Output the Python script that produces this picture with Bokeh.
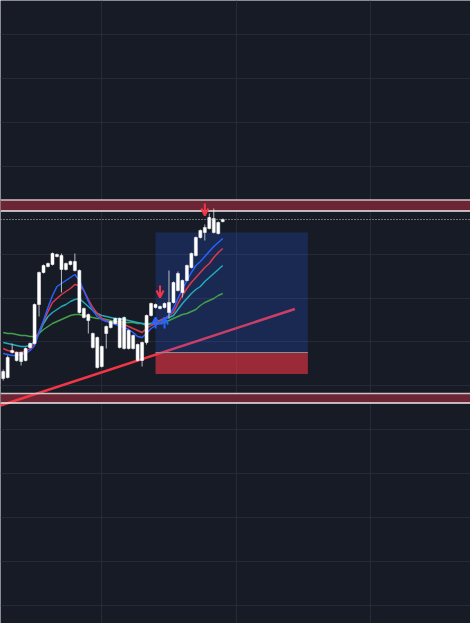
from bokeh.plotting import figure
from bokeh.models import (ColumnDataSource, Range1d, FixedTicker, BoxAnnotation, Span,
                          Arrow, OpenHead)
from bokeh.embed import file_html
from bokeh.resources import INLINE

# ---------------- data ----------------
opens  = [101.4,100.8,103.3,103.3,102.4,102.5,103.8,104.2,108.1,111.3,
          111.9,112.1,113.1,113.0,111.6,112.1,112.4,111.5,107.7,107.1,
          105.2,104.8,101.9,105.2,105.8,106.2,106.7,103.7,105.5,103.7,
          104.1,102.5,104.3,107.0,108.1,107.7,107.8,108.3,108.3,109.5,
          110.5,110.5,111.8,113.0,114.8,115.3,115.7,116.7,115.2,116.4]
highs  = [101.6,103.0,104.2,103.4,103.4,103.8,104.3,108.2,111.4,112.1,
          112.3,113.3,113.2,113.2,112.3,112.5,113.2,111.6,107.8,107.2,
          105.3,104.9,104.0,106.0,106.5,106.8,106.8,106.9,105.6,105.1,
          104.2,104.4,107.1,108.3,108.2,108.0,108.3,111.5,110.4,111.4,
          110.6,112.1,113.3,114.9,115.6,116.1,117.2,117.7,116.4,116.7]
lows   = [100.5,100.7,103.2,102.4,102.0,102.4,103.7,104.1,106.9,111.2,
          111.8,112.0,112.8,109.3,111.5,112.0,111.4,107.2,106.7,105.2,
          103.7,101.7,101.8,103.7,105.7,106.1,103.7,103.6,103.6,103.6,
          102.4,101.9,104.1,106.9,107.7,107.6,107.7,106.7,108.2,109.4,
          108.8,110.4,111.7,112.9,114.7,114.5,115.6,115.2,115.1,116.3]
closes = [100.7,102.8,103.5,102.5,103.3,103.7,104.2,108.1,111.3,112.0,
          112.2,113.2,112.9,111.6,112.2,112.4,111.5,107.3,106.8,106.5,
          103.8,101.8,103.9,105.9,106.4,106.7,103.8,106.8,103.7,105.0,
          102.5,104.3,107.0,108.2,107.8,107.9,108.2,107.3,110.3,111.2,
          109.3,112.0,113.2,114.8,115.5,115.8,116.8,115.3,116.3,116.6]

ma_blue  = [103.2,103.1,103.0,103.0,103.1,103.2,103.5,104.0,105.3,106.5,
            107.8,109.0,109.9,110.2,110.5,110.8,111.1,110.5,109.5,108.4,
            107.5,106.9,106.6,106.4,106.3,106.1,106.0,105.8,105.6,105.3,
            104.9,104.8,105.2,105.7,106.0,106.3,106.6,107.0,107.7,108.7,
            109.6,110.5,111.3,112.0,112.4,112.9,113.4,113.9,114.3,114.7]
ma_red   = [103.7,103.5,103.4,103.3,103.3,103.4,103.7,104.3,105.4,106.4,
            107.4,108.3,108.7,109.1,109.4,109.7,110.1,110.0,109.5,108.6,
            107.8,107.2,106.7,106.5,106.3,106.2,106.2,106.1,105.9,105.7,
            105.5,105.3,105.7,106.0,106.2,106.5,106.7,107.0,107.3,108.2,
            109.0,109.7,110.3,110.8,111.3,111.8,112.2,112.8,113.3,113.7]
ma_cyan  = [104.3,104.2,104.1,104.0,103.9,103.9,104.0,104.4,105.2,106.2,
            106.9,107.3,107.6,107.9,108.1,108.4,108.6,108.7,108.3,107.9,
            107.5,107.2,107.0,106.9,106.8,106.7,106.7,106.6,106.5,106.4,
            106.3,106.2,106.0,106.2,106.3,106.5,106.7,106.8,107.0,107.6,
            108.2,108.7,109.2,109.6,109.9,110.4,110.8,111.2,111.6,112.0]
ma_green = [105.3,105.2,105.2,105.1,105.0,105.0,104.9,104.9,105.2,105.6,
            105.9,106.2,106.4,106.6,106.8,107.0,107.1,107.1,107.0,106.9,
            106.8,106.7,106.7,106.6,106.5,106.4,106.4,106.3,106.3,106.3,
            106.2,106.2,106.2,106.2,106.2,106.2,106.3,106.5,106.7,106.9,
            107.1,107.2,107.4,107.6,108.0,108.3,108.5,108.7,109.0,109.2]

# horizontal zones (top, bottom) and the dotted level
zone_tops    = [118.55, 99.2]
zone_bottoms = [117.45, 98.25]
dotted_level = 116.6

# long position box
pos_start, pos_end = 34, 68
take_profit, entry, stop = 115.3, 103.3, 101.15

# trend line (index, price)
trend_x = [-0.6, 65.1]
trend_y = [98.0, 107.65]

# signals: (index, arrow start, arrow end)
sell_idx   = [35, 45]
sell_start = [110.0, 118.2]
sell_end   = [108.8, 117.0]
buy_idx    = [34, 36]
buy_start  = [105.7, 105.7]
buy_end    = [106.8, 106.8]

# grid levels
x_grid = [22, 52, 82]
y_grid = [78.0, 82.4, 86.8, 91.2, 95.6, 100.0, 104.4, 108.7, 113.1, 117.5,
          121.9, 126.3, 130.7, 135.1]

# ---------------- figure ----------------
BG = "#171b26"
idx = list(range(len(opens)))
src = ColumnDataSource(dict(
    x=idx, open=opens, high=highs, low=lows, close=closes,
    top=[max(o, c) for o, c in zip(opens, closes)],
    bottom=[min(o, c) for o, c in zip(opens, closes)],
    blue=ma_blue, red=ma_red, cyan=ma_cyan, green=ma_green))

p = figure(width=470, height=623, x_range=Range1d(-0.603, 104.3),
           y_range=Range1d(76.2, 138.5), output_backend="svg",
           toolbar_location=None, min_border=0)
p.background_fill_color = BG
p.border_fill_color = BG
p.outline_line_color = None
p.xaxis.visible = False
p.yaxis.visible = False
p.xgrid.ticker = FixedTicker(ticks=x_grid)
p.ygrid.ticker = FixedTicker(ticks=y_grid)
for g in (p.xgrid, p.ygrid):
    g.grid_line_color = "#262a36"
    g.grid_line_width = 1

# zones
for t, b in zip(zone_tops, zone_bottoms):
    p.add_layout(BoxAnnotation(top=t, bottom=b, fill_color="#6b2535",
                               fill_alpha=1.0, line_color=None, level="underlay"))
    p.add_layout(Span(location=t, dimension="width", line_color="#cfc3c6",
                      line_width=1.5))
    p.add_layout(Span(location=b, dimension="width", line_color="#f0eaeb",
                      line_width=1.5))
p.add_layout(Span(location=dotted_level, dimension="width", line_color="#c8c8cc",
                  line_width=1, line_dash="1 2"))

# trend line
p.line(trend_x, trend_y, line_color="#f23645", line_width=2.5)

# position box
p.quad(left=[pos_start], right=[pos_end], bottom=[entry], top=[take_profit],
       fill_color="#2962ff", fill_alpha=0.2, line_color=None)
p.quad(left=[pos_start], right=[pos_end], bottom=[stop], top=[entry],
       fill_color="#f23645", fill_alpha=0.6, line_color=None)
p.segment(x0=[pos_start], x1=[pos_end], y0=[entry], y1=[entry],
          line_color="#8a8d96", line_width=1)

# moving averages
p.line("x", "green", source=src, line_color="#43a047", line_width=1.5)
p.line("x", "cyan", source=src, line_color="#26a9ba", line_width=1.5)
p.line("x", "red", source=src, line_color="#e0384a", line_width=1.5)
p.line("x", "blue", source=src, line_color="#2962ff", line_width=1.5)

# candles
p.segment("x", "high", "x", "low", source=src, line_color="#b8bbc4", line_width=1)
p.vbar(x="x", width=0.67, top="top", bottom="bottom", source=src,
       fill_color="#ffffff", line_color="#ffffff", line_width=0.5)

# signals
sell_src = ColumnDataSource(dict(x=sell_idx, y0=sell_start, y1=sell_end))
buy_src = ColumnDataSource(dict(x=buy_idx, y0=buy_start, y1=buy_end))
p.add_layout(Arrow(end=OpenHead(size=7, line_width=2, line_color="#f23645"),
                   x_start="x", y_start="y0", x_end="x", y_end="y1",
                   source=sell_src, line_color="#f23645", line_width=2))
p.add_layout(Arrow(end=OpenHead(size=7, line_width=2, line_color="#2962ff"),
                   x_start="x", y_start="y0", x_end="x", y_end="y1",
                   source=buy_src, line_color="#2962ff", line_width=2))

open("out.html", "w").write(file_html(p, INLINE))
